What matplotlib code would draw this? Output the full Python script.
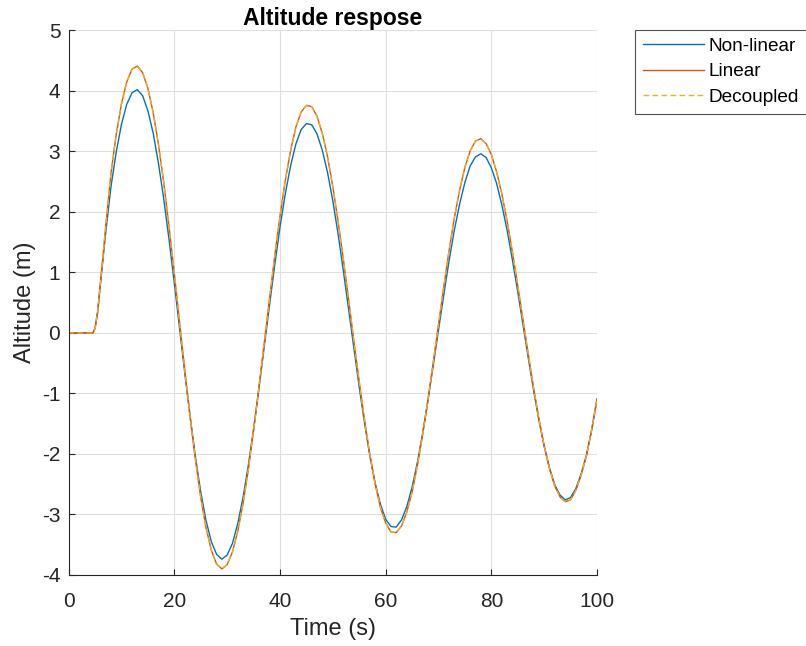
import matplotlib
matplotlib.use("Agg")
import matplotlib.pyplot as plt

plt.rcParams['font.family'] = ['Liberation Sans', 'DejaVu Sans']
plt.rcParams['axes.unicode_minus'] = False

# time samples (s)
time = [0, 4.6, 5, 5.5, 6, 6.5] + list(range(7, 101))

# altitude (m)
nonlinear = [0, 0, 0.08, 0.35, 0.80, 1.22,
             1.65, 2.41, 2.99, 3.45, 3.78, 3.97, 4.02, 3.92, 3.67, 3.30,
             2.80, 2.21, 1.54, 0.82, 0.07, -0.68, -1.39, -2.05, -2.63, -3.10,
             -3.45, -3.66, -3.74, -3.67, -3.48, -3.15, -2.72, -2.19, -1.59, -0.93,
             -0.24, 0.45, 1.12, 1.75, 2.30, 2.76, 3.12, 3.36, 3.46, 3.44,
             3.29, 3.02, 2.65, 2.18, 1.63, 1.02, 0.38, -0.26, -0.90, -1.49,
             -2.03, -2.48, -2.83, -3.08, -3.20, -3.21, -3.09, -2.87, -2.55, -2.14,
             -1.66, -1.12, -0.54, 0.05, 0.63, 1.19, 1.70, 2.13, 2.49, 2.76,
             2.91, 2.96, 2.90, 2.73, 2.47, 2.11, 1.69, 1.20, 0.68, 0.13,
             -0.42, -0.95, -1.44, -1.87, -2.23, -2.51, -2.68, -2.76, -2.72, -2.57,
             -2.33, -2.02, -1.60, -1.10]

linear = [0, 0, 0.08, 0.36, 0.82, 1.27,
          1.75, 2.63, 3.28, 3.79, 4.15, 4.36, 4.41, 4.30, 4.04, 3.64,
          3.11, 2.48, 1.75, 0.98, 0.17, -0.63, -1.40, -2.10, -2.72, -3.22,
          -3.59, -3.82, -3.90, -3.83, -3.62, -3.28, -2.82, -2.26, -1.61, -0.91,
          -0.18, 0.55, 1.27, 1.93, 2.52, 3.01, 3.40, 3.65, 3.76, 3.74,
          3.58, 3.30, 2.91, 2.41, 1.84, 1.21, 0.54, -0.15, -0.81, -1.44,
          -2.01, -2.49, -2.88, -3.14, -3.29, -3.30, -3.19, -2.96, -2.63, -2.19,
          -1.68, -1.11, -0.49, 0.14, 0.76, 1.36, 1.90, 2.36, 2.74, 3.01,
          3.17, 3.21, 3.13, 2.95, 2.66, 2.29, 1.84, 1.33, 0.78, 0.21,
          -0.36, -0.91, -1.42, -1.87, -2.24, -2.53, -2.71, -2.79, -2.76, -2.60,
          -2.35, -2.03, -1.60, -1.09]

decoupled = list(linear)

fig = plt.figure(figsize=(8.06, 6.46), dpi=100)
ax = fig.add_axes([0.0852, 0.110, 0.6555, 0.843])

ax.plot(time, nonlinear, color='#0072BD', lw=1.0, label='Non-linear')
ax.plot(time, linear, color='#D95319', lw=1.0, label='Linear')
ax.plot(time, decoupled, color='#EDB120', lw=1.0, ls=(0, (4, 2.5)), label='Decoupled')

ax.set_xlim(0, 100)
ax.set_ylim(-4, 5)
ax.set_xticks([0, 20, 40, 60, 80, 100])
ax.set_yticks(range(-4, 6))

ax.grid(True, color='#dfdfdf', lw=0.8)
ax.set_axisbelow(True)
for s in ['top', 'right']:
    ax.spines[s].set_visible(False)
for s in ['left', 'bottom']:
    ax.spines[s].set_color('#262626')
    ax.spines[s].set_linewidth(0.8)
ax.tick_params(direction='in', length=4, width=0.8, colors='#262626',
               labelsize=15, pad=6)
ax.tick_params(axis='x', pad=12)

ax.set_title('Altitude respose', fontsize=16.5, fontweight='bold', pad=4)
ax.set_xlabel('Time (s)', fontsize=17, color='#262626', labelpad=5)
ax.set_ylabel('Altitude (m)', fontsize=17, color='#262626', labelpad=4)

leg = fig.legend(loc='upper left', bbox_to_anchor=(0.788, 0.954), fontsize=13.7,
                 frameon=True, fancybox=False, edgecolor='#262626',
                 handlelength=3.2, handletextpad=0.25, borderpad=0.42,
                 labelspacing=0.42, borderaxespad=0)
leg.get_frame().set_linewidth(0.8)

fig.savefig('out.png', dpi=100)
